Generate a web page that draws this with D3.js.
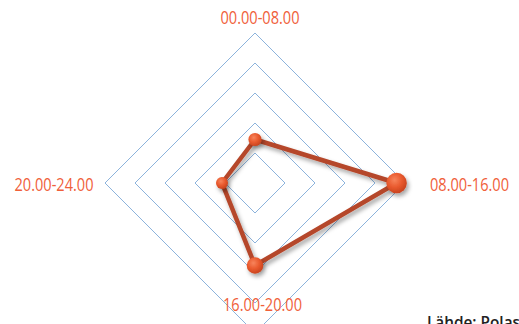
<!DOCTYPE html>
<html>
<head>
<meta charset="utf-8">
<script src="https://cdn.jsdelivr.net/npm/d3@7"></script>
<style>
  html, body { margin: 0; padding: 0; background: #fff; }
  svg { display: block; }
  .lbl { font-family: "Open Sans", "Noto Sans", sans-serif; font-size: 18px; fill: #f0603a; }
  .src { font-family: "Open Sans", "Noto Sans", sans-serif; font-size: 16px; font-weight: 600; fill: #222; }
</style>
</head>
<body>
<div id="chart"></div>
<script>
// time slots (clockwise from top) and their values
const categories = ["00.00-08.00", "08.00-16.00", "16.00-20.00", "20.00-24.00"];
const values = [1.45, 4.72, 2.75, 1.1];
const ringTicks = [1, 2, 3, 4, 5];

const width = 519, height = 324;
const cx = 255, cy = 183;

const svg = d3.select("#chart").append("svg")
    .attr("width", width)
    .attr("height", height);

const defs = svg.append("defs");

// shadow under line and balls
const shadow = defs.append("filter")
    .attr("id", "shadow")
    .attr("x", "-50%").attr("y", "-50%")
    .attr("width", "200%").attr("height", "200%");
shadow.append("feDropShadow")
    .attr("dx", 2).attr("dy", 3)
    .attr("stdDeviation", 2)
    .attr("flood-color", "#000")
    .attr("flood-opacity", 0.35);

// shiny ball look
const grad = defs.append("radialGradient")
    .attr("id", "ball")
    .attr("cx", "40%").attr("cy", "35%").attr("r", "65%");
grad.append("stop").attr("offset", "0%").attr("stop-color", "#f7845c");
grad.append("stop").attr("offset", "55%").attr("stop-color", "#e95a2e");
grad.append("stop").attr("offset", "100%").attr("stop-color", "#c9441f");

const g = svg.append("g")
    .attr("transform", "translate(" + cx + "," + cy + ")");

// scales
const r = d3.scaleLinear()
    .domain([0, 5])
    .range([0, 150]);
const angle = d3.scalePoint()
    .domain(categories)
    .range([0, 2 * Math.PI * (categories.length - 1) / categories.length]);
const ballSize = d3.scaleSqrt()
    .domain([0, 5])
    .range([2, 10.5]);

function pt(cat, v) {
  const a = angle(cat) - Math.PI / 2;
  return [r(v) * Math.cos(a), r(v) * Math.sin(a)];
}

// grid diamonds
const ringLine = d3.line();
g.selectAll(".ring")
    .data(ringTicks)
  .enter().append("path")
    .attr("class", "ring")
    .attr("d", function(t) {
      return ringLine(categories.map(function(c) { return pt(c, t).map(Math.round); })) + "Z";
    })
    .attr("fill", "none")
    .attr("stroke", "#8cb3dc")
    .attr("stroke-width", 1);

// series line
const series = categories.map(function(c, i) { return pt(c, values[i]); });
g.append("path")
    .attr("d", ringLine(series) + "Z")
    .attr("fill", "none")
    .attr("stroke", "#b5462a")
    .attr("stroke-width", 4.5)
    .attr("stroke-linejoin", "round")
    .attr("filter", "url(#shadow)");

// balls
g.selectAll(".ball")
    .data(values)
  .enter().append("circle")
    .attr("class", "ball")
    .attr("cx", function(d, i) { return pt(categories[i], d)[0]; })
    .attr("cy", function(d, i) { return pt(categories[i], d)[1]; })
    .attr("r", function(d) { return ballSize(d); })
    .attr("fill", "url(#ball)")
    .attr("filter", "url(#shadow)");

// category labels (squeezed to the reference width)
const labelPos = [
  { x: 5, y: -159, anchor: "middle" },
  { x: 175, y: 8, anchor: "start" },
  { x: 7.5, y: 128, anchor: "middle" },
  { x: -161.5, y: 8, anchor: "end" }
];
g.selectAll(".lbl")
    .data(categories)
  .enter().append("text")
    .attr("class", "lbl")
    .attr("x", function(d, i) { return labelPos[i].x; })
    .attr("y", function(d, i) { return labelPos[i].y; })
    .attr("text-anchor", function(d, i) { return labelPos[i].anchor; })
    .attr("textLength", 79)
    .attr("lengthAdjust", "spacingAndGlyphs")
    .text(function(d) { return d; });

// source note, cut at bottom right like the original
svg.append("text")
    .attr("class", "src")
    .attr("x", 427)
    .attr("y", 328)
    .attr("textLength", 93)
    .attr("lengthAdjust", "spacingAndGlyphs")
    .text("Lähde: Polas");
</script>
</body>
</html>
